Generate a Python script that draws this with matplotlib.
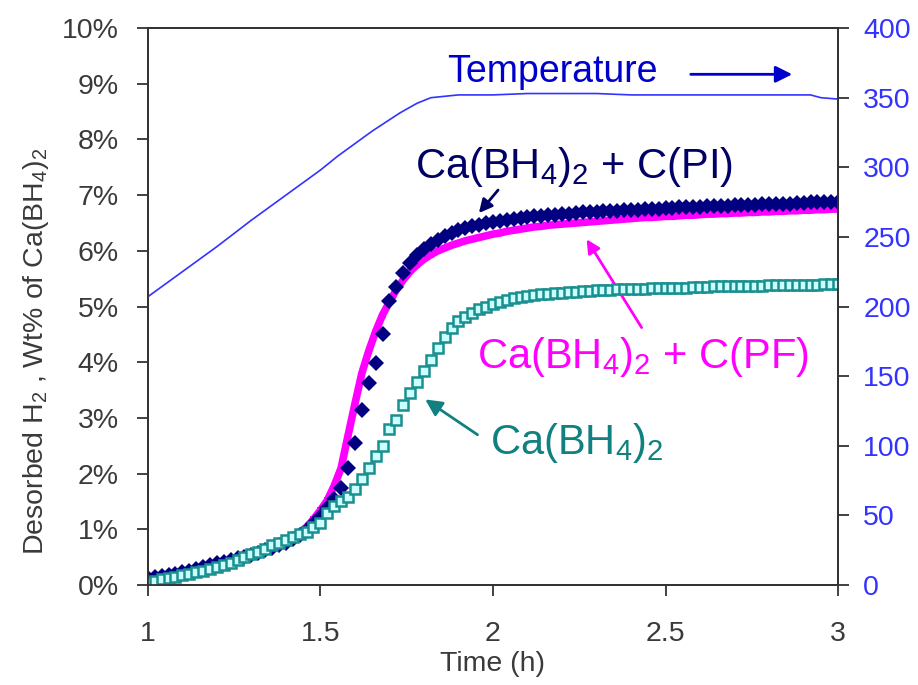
import matplotlib.pyplot as plt
import numpy as np

plt.rcParams['font.family'] = ['Liberation Sans', 'DejaVu Sans']
plt.rcParams['mathtext.fontset'] = 'custom'
plt.rcParams['mathtext.rm'] = 'Liberation Sans'
plt.rcParams['mathtext.it'] = 'Liberation Sans'

# time axis (h)
time_h = [1.00, 1.02, 1.04, 1.06, 1.08, 1.10, 1.12, 1.14, 1.16, 1.18,
          1.20, 1.22, 1.24, 1.26, 1.28, 1.30, 1.32, 1.34, 1.36, 1.38,
          1.40, 1.42, 1.44, 1.46, 1.48, 1.50, 1.52, 1.54, 1.56, 1.58,
          1.60, 1.62, 1.64, 1.66, 1.68, 1.70, 1.72, 1.74, 1.76, 1.78,
          1.80, 1.82, 1.84, 1.86, 1.88, 1.90, 1.92, 1.94, 1.96, 1.98,
          2.00, 2.02, 2.04, 2.06, 2.08, 2.10, 2.12, 2.14, 2.16, 2.18,
          2.20, 2.22, 2.24, 2.26, 2.28, 2.30, 2.32, 2.34, 2.36, 2.38,
          2.40, 2.42, 2.44, 2.46, 2.48, 2.50, 2.52, 2.54, 2.56, 2.58,
          2.60, 2.62, 2.64, 2.66, 2.68, 2.70, 2.72, 2.74, 2.76, 2.78,
          2.80, 2.82, 2.84, 2.86, 2.88, 2.90, 2.92, 2.94, 2.96, 2.98,
          3.00]

# desorbed H2, wt%
pi_wt = [0.12, 0.14, 0.16, 0.18, 0.20, 0.23, 0.26, 0.29, 0.33, 0.36,
         0.39, 0.42, 0.45, 0.48, 0.51, 0.54, 0.58, 0.62, 0.66, 0.71,
         0.76, 0.82, 0.90, 0.99, 1.10, 1.22, 1.38, 1.55, 1.75, 2.10,
         2.55, 3.15, 3.62, 3.98, 4.50, 5.10, 5.35, 5.60, 5.78, 5.92,
         6.03, 6.12, 6.19, 6.26, 6.32, 6.37, 6.41, 6.44, 6.47, 6.50,
         6.52, 6.54, 6.56, 6.58, 6.59, 6.60, 6.62, 6.63, 6.64, 6.65,
         6.66, 6.67, 6.68, 6.69, 6.70, 6.70, 6.71, 6.72, 6.72, 6.73,
         6.74, 6.74, 6.75, 6.75, 6.76, 6.77, 6.77, 6.78, 6.78, 6.79,
         6.79, 6.80, 6.80, 6.81, 6.81, 6.82, 6.82, 6.83, 6.83, 6.84,
         6.84, 6.85, 6.85, 6.85, 6.86, 6.86, 6.87, 6.87, 6.87, 6.88,
         6.88]

pf_wt = [0.10, 0.13, 0.15, 0.17, 0.20, 0.23, 0.26, 0.29, 0.32, 0.35,
         0.38, 0.42, 0.45, 0.48, 0.52, 0.55, 0.59, 0.63, 0.68, 0.73,
         0.79, 0.86, 0.94, 1.04, 1.18, 1.34, 1.52, 1.78, 2.10, 2.68,
         3.25, 3.80, 4.20, 4.55, 4.85, 5.08, 5.30, 5.48, 5.63, 5.75,
         5.85, 5.93, 6.00, 6.05, 6.10, 6.14, 6.18, 6.21, 6.24, 6.27,
         6.30, 6.32, 6.35, 6.37, 6.39, 6.41, 6.43, 6.44, 6.46, 6.47,
         6.48, 6.49, 6.50, 6.51, 6.52, 6.53, 6.54, 6.55, 6.56, 6.57,
         6.58, 6.59, 6.60, 6.60, 6.61, 6.62, 6.62, 6.63, 6.64, 6.64,
         6.65, 6.66, 6.66, 6.67, 6.67, 6.68, 6.68, 6.69, 6.69, 6.70,
         6.70, 6.71, 6.71, 6.72, 6.72, 6.73, 6.73, 6.74, 6.74, 6.75,
         6.75]

bare_wt = [0.05, 0.07, 0.10, 0.12, 0.15, 0.18, 0.20, 0.23, 0.26, 0.29,
           0.32, 0.36, 0.40, 0.45, 0.50, 0.55, 0.60, 0.65, 0.71, 0.76,
           0.81, 0.86, 0.91, 0.96, 1.04, 1.12, 1.30, 1.42, 1.51, 1.58,
           1.72, 1.90, 2.10, 2.32, 2.50, 2.80, 2.97, 3.23, 3.45, 3.65,
           3.85, 4.04, 4.25, 4.45, 4.62, 4.74, 4.82, 4.89, 4.95, 5.00,
           5.05, 5.09, 5.12, 5.15, 5.17, 5.19, 5.21, 5.22, 5.23, 5.24,
           5.25, 5.26, 5.27, 5.28, 5.28, 5.29, 5.30, 5.30, 5.31, 5.31,
           5.32, 5.32, 5.32, 5.33, 5.33, 5.33, 5.34, 5.34, 5.34, 5.35,
           5.35, 5.35, 5.36, 5.36, 5.36, 5.36, 5.37, 5.37, 5.37, 5.37,
           5.38, 5.38, 5.38, 5.38, 5.39, 5.39, 5.39, 5.39, 5.40, 5.40,
           5.40]

# temperature (right axis)
temp_t = [1.00, 1.10, 1.20, 1.30, 1.40, 1.50, 1.55, 1.65, 1.73, 1.78,
          1.82, 1.86, 1.90, 2.00, 2.10, 2.20, 2.30, 2.40, 2.60, 2.80,
          2.92, 2.95, 3.00]
temp_c = [207, 225, 243, 262, 280, 298, 308, 326, 339, 346,
          350, 351, 352, 352, 353, 353, 353, 352, 352, 352,
          352, 350, 349]

fig = plt.figure(figsize=(9.18, 6.85), dpi=100)
ax = fig.add_axes([0.161, 0.146, 0.752, 0.813])
ax2 = ax.twinx()

ax.plot(time_h, pf_wt, color='#ff00ff', lw=5.5, marker='s', ms=5,
        markeredgewidth=0, zorder=2)
ax.plot(time_h, pi_wt, color='#000080', lw=0, marker='D', ms=8,
        markeredgewidth=0, zorder=3)
ax.plot(time_h, bare_wt, color='#008080', lw=0, marker='s', ms=7,
        markerfacecolor='#ccffff', markeredgecolor='#1a8f8f',
        markeredgewidth=1.8, zorder=4)
ax2.plot(temp_t, temp_c, color='#3333ff', lw=1.2)

ax.set_xlim(1, 3)
ax.set_ylim(0, 10)
ax2.set_ylim(0, 400)
ax.set_xticks([1, 1.5, 2, 2.5, 3])
ax.set_xticklabels(['1', '1.5', '2', '2.5', '3'])
ax.set_yticks(range(0, 11))
ax.set_yticklabels([f'{v}%' for v in range(0, 11)])
ax2.set_yticks(range(0, 401, 50))

for a in (ax, ax2):
    for s in a.spines.values():
        s.set_linewidth(1.3)
        s.set_color('#333333')
ax.tick_params(axis='both', direction='out', length=8, width=1.3,
               colors='#333333', labelsize=20.5, labelcolor='#3a3a3a')
ax.tick_params(axis='y', pad=13)
ax.tick_params(axis='x', pad=18)
ax2.tick_params(axis='y', direction='out', length=8, width=1.3,
                color='#333333', labelsize=20.5, labelcolor='#3333ff',
                pad=10)

ax.set_xlabel('Time (h)', fontsize=20.5, color='#3a3a3a')
ax.xaxis.set_label_coords(0.5, -0.118)
ax.set_ylabel('Desorbed H$_2$ , Wt% of Ca(BH$_4$)$_2$', fontsize=20.5,
              color='#3a3a3a')
ax.yaxis.set_label_coords(-0.14, 0.42)

ax.text(2.171, 9.21, 'Temperature', fontsize=27, color='#0000cc',
        ha='center', va='center')
ax.annotate('', xy=(2.875, 9.17), xytext=(2.565, 9.17),
            arrowprops=dict(arrowstyle='-|>', color='#0000cc', lw=2,
                            mutation_scale=25))

ax.text(2.235, 7.5, 'Ca(BH$_4$)$_2$ + C(PI)', fontsize=30, color='#000066',
        ha='center', va='center')
ax.annotate('', xy=(1.954, 6.64), xytext=(2.02, 7.13),
            arrowprops=dict(arrowstyle='-|>', color='#000066', lw=2,
                            mutation_scale=20))

ax.text(2.435, 4.1, 'Ca(BH$_4$)$_2$ + C(PF)', fontsize=30, color='#ff00ff',
        ha='center', va='center')
ax.annotate('', xy=(2.267, 6.25), xytext=(2.435, 4.58),
            arrowprops=dict(arrowstyle='-|>', color='#ff00ff', lw=2,
                            mutation_scale=20))

ax.text(2.243, 2.55, 'Ca(BH$_4$)$_2$', fontsize=30, color='#108080',
        ha='center', va='center')
ax.annotate('', xy=(1.797, 3.36), xytext=(1.962, 2.67),
            arrowprops=dict(arrowstyle='-|>', color='#108080', lw=2,
                            mutation_scale=25))

fig.savefig('out.png', dpi=100)
